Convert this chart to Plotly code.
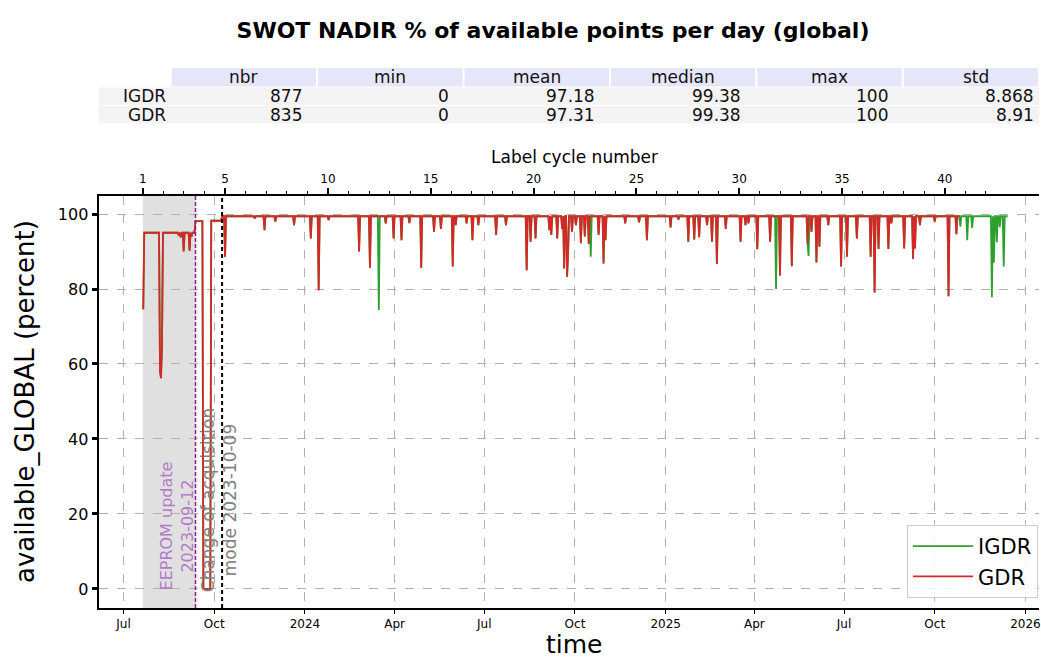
import pandas as pd
import plotly.graph_objects as go

W, H = 1041, 659
FONT = "DejaVu Sans"

title_text = "SWOT NADIR % of available points per day (global)"

# ---------------- statistics table ----------------
stat_columns = ["nbr", "min", "mean", "median", "max", "std"]
stat_rows = ["IGDR", "GDR"]
stat_igdr = ["877", "0", "97.18", "99.38", "100", "8.868"]
stat_gdr = ["835", "0", "97.31", "99.38", "100", "8.91"]

# ---------------- daily series ----------------
# level holding from each date on
level_dates = ["2023-07-21", "2023-07-22", "2023-09-12", "2023-09-20", "2023-09-28", "2023-10-09"]
level_values = [74.6, 95.0, 98.1, 0.0, 98.2, 99.4]
gdr_end = "2025-10-26"
igdr_end = "2025-12-14"

# single-day drops common to both products
gdr_dip_dates = [
    "2023-08-07", "2023-08-08", "2023-08-09", "2023-08-26", "2023-08-28", "2023-08-31",
    "2023-09-06", "2023-09-08",
    "2023-10-12", "2023-11-11", "2023-11-21", "2023-12-02", "2023-12-21",
    "2024-01-07", "2024-01-15", "2024-01-25", "2024-02-25", "2024-03-07", "2024-03-23",
    "2024-03-31", "2024-04-08", "2024-04-16", "2024-04-28", "2024-05-11", "2024-05-18",
    "2024-05-30", "2024-06-02", "2024-06-13", "2024-06-19", "2024-06-25", "2024-07-13",
    "2024-07-23", "2024-08-13", "2024-08-17", "2024-08-22", "2024-09-05", "2024-09-07",
    "2024-09-13", "2024-09-18", "2024-09-20", "2024-09-23", "2024-09-24", "2024-09-28",
    "2024-10-02", "2024-10-07", "2024-10-11", "2024-10-15", "2024-10-25", "2024-10-30",
    "2024-11-01", "2024-11-21", "2024-12-05", "2024-12-13",
    "2025-01-06", "2025-01-14", "2025-01-24", "2025-01-30", "2025-02-04", "2025-02-12",
    "2025-02-17", "2025-02-22", "2025-03-03", "2025-03-18", "2025-03-23", "2025-03-26",
    "2025-04-04", "2025-04-17", "2025-04-27", "2025-05-09", "2025-05-25", "2025-05-29",
    "2025-06-03", "2025-06-06", "2025-06-15", "2025-06-28", "2025-07-04", "2025-07-14",
    "2025-07-28", "2025-08-01", "2025-08-05", "2025-08-15", "2025-08-18", "2025-08-31",
    "2025-09-09", "2025-09-11", "2025-09-16", "2025-10-01", "2025-10-15", "2025-10-23",
]
gdr_dip_values = [
    58.0, 56.2, 64.8, 94.3, 93.8, 90.0,
    90.2, 94.0,
    88.6, 98.8, 95.7, 98.0, 97.0,
    93.5, 79.7, 98.4, 90.0, 85.7, 97.5,
    93.5, 93.0, 97.6, 85.7, 95.3, 96.0,
    86.0, 97.0, 97.5, 93.0, 97.0, 94.4,
    97.0, 85.0, 92.6, 93.5, 95.7, 94.4,
    93.5, 96.0, 85.5, 83.3, 89.5, 95.3,
    97.0, 92.2, 94.0, 92.0, 94.4, 86.8,
    93.0, 97.5, 97.8, 93.0,
    96.4, 98.5, 92.6, 93.2, 93.8, 97.0,
    92.6, 86.7, 96.0, 92.6, 97.0, 97.5,
    90.6, 92.6, 83.6, 86.1, 92.0, 95.3,
    87.1, 91.3, 97.0, 86.0, 88.6, 93.5,
    88.6, 79.1, 90.7, 90.7, 97.5, 90.8,
    88.0, 90.8, 97.0, 98.0, 78.1, 94.6,
]

# drops seen only in IGDR (green)
igdr_dip_dates = [
    "2024-03-16", "2024-10-17", "2025-04-23", "2025-05-26",
    "2025-10-27", "2025-11-03", "2025-11-08", "2025-11-28", "2025-11-30",
    "2025-12-03", "2025-12-06", "2025-12-10",
]
igdr_dip_values = [
    74.4, 88.6, 80.0, 88.8,
    96.6, 93.0, 96.3, 77.8, 87.0,
    92.5, 96.5, 86.0,
]

# ---------------- axes / events ----------------
x_range = ["2023-06-06 10:00", "2026-01-14 19:00"]
y_range = [-5.07, 104.8]
y_ticks = [0, 20, 40, 60, 80, 100]
date_tick_vals = ["2023-07-01", "2023-10-01", "2024-01-01", "2024-04-01", "2024-07-01",
                  "2024-10-01", "2025-01-01", "2025-04-01", "2025-07-01", "2025-10-01",
                  "2026-01-01"]
date_tick_text = ["Jul", "Oct", "2024", "Apr", "Jul", "Oct", "2025", "Apr", "Jul", "Oct", "2026"]

cycle1_start = "2023-07-20 14:00"
cycle_length_days = 20.864
cycle_labels = [1, 5, 10, 15, 20, 25, 30, 35, 40]
cycle_minor = list(range(1, 43))

shade_start, shade_end = "2023-07-20 12:00", "2023-09-12"
eeprom_date = "2023-09-12"
acq_date = "2023-10-09"


def build_series(end, dip_dates, dip_values):
    days = pd.date_range(level_dates[0], end, freq="D")
    lv = pd.Series(level_values, index=pd.to_datetime(level_dates))
    s = lv.reindex(days, method="ffill")
    for d, v in zip(dip_dates, dip_values):
        ts = pd.Timestamp(d)
        if ts in s.index:
            s[ts] = v
    return s


gdr = build_series(gdr_end, gdr_dip_dates, gdr_dip_values)
igdr = build_series(igdr_end, gdr_dip_dates + igdr_dip_dates, gdr_dip_values + igdr_dip_values)

c1 = pd.Timestamp(cycle1_start)
cyc_range = [1 + (pd.Timestamp(x_range[0]) - c1) / pd.Timedelta(days=cycle_length_days),
             1 + (pd.Timestamp(x_range[1]) - c1) / pd.Timedelta(days=cycle_length_days)]

fig = go.Figure()
fig.add_trace(go.Scatter(x=igdr.index, y=igdr.values, name="IGDR", mode="lines",
                         line=dict(color="#2ca02c", width=1.8)))
fig.add_trace(go.Scatter(x=gdr.index, y=gdr.values, name="GDR", mode="lines",
                         line=dict(color="#d62728", width=1.8)))
fig.add_trace(go.Scatter(x=[cycle_minor[0], cycle_minor[-1]], y=[None, None], xaxis="x2", yaxis="y",
                         showlegend=False, hoverinfo="skip", mode="lines"))


def px(x):
    return x / W


def py(y):
    return 1 - y / H


shapes = []
annotations = []

# table
col_left0, col_w, lab_left = 171.0, 146.7, 99.0
hdr_top, hdr_bot = 68.0, 87.0
row_tops = [87.0, 105.5]
row_h = 18.5
tfont = dict(family=FONT, size=17, color="#111111")
for j, name in enumerate(stat_columns):
    x0 = col_left0 + j * col_w
    x1 = min(x0 + col_w, W)
    shapes.append(dict(type="rect", xref="paper", yref="paper", x0=px(x0 + 1), x1=px(x1 - 1),
                       y0=py(hdr_bot - 0.5), y1=py(hdr_top), fillcolor="#e6e6fa", line=dict(width=0)))
    annotations.append(dict(xref="paper", yref="paper", x=px((x0 + x0 + col_w) / 2), y=py((hdr_top + hdr_bot) / 2),
                            text=name, showarrow=False, xanchor="center", yanchor="middle", font=tfont))
for i, (lab, vals) in enumerate(zip(stat_rows, [stat_igdr, stat_gdr])):
    top = row_tops[i]
    bot = top + row_h
    shapes.append(dict(type="rect", xref="paper", yref="paper", x0=px(lab_left), x1=px(W),
                       y0=py(bot - 0.5), y1=py(top + 0.5), fillcolor="#f3f3f3", line=dict(width=0)))
    annotations.append(dict(xref="paper", yref="paper", x=px(col_left0 - 3), y=py((top + bot) / 2),
                            text=lab, showarrow=False, xanchor="right", yanchor="middle", font=tfont))
    for j, v in enumerate(vals):
        xr = col_left0 + (j + 1) * col_w - 13
        annotations.append(dict(xref="paper", yref="paper", x=px(xr), y=py((top + bot) / 2),
                                text=v, showarrow=False, xanchor="right", yanchor="middle", font=tfont))

# shaded period and event lines
shapes.append(dict(type="rect", xref="x", yref="y domain", x0=shade_start, x1=shade_end, y0=0, y1=1,
                   fillcolor="#e0e0e0", line=dict(width=0), layer="below"))
shapes.append(dict(type="line", xref="x", yref="y domain", x0=eeprom_date, x1=eeprom_date, y0=0, y1=1,
                   line=dict(color="#8b1a8f", width=1.5, dash="4px,2px")))
shapes.append(dict(type="line", xref="x", yref="y domain", x0=acq_date, x1=acq_date, y0=0, y1=1,
                   line=dict(color="black", width=2, dash="4px,3px")))

annotations.append(dict(xref="x", yref="y", x=eeprom_date, xshift=-18, y=16.8,
                        text="EEPROM update<br>2023-09-12", textangle=-90, showarrow=False,
                        xanchor="center", yanchor="middle", align="center",
                        font=dict(family=FONT, size=16, color="#b47ac8")))
annotations.append(dict(xref="x", yref="y", x=acq_date, xshift=-3, y=23.7,
                        text="Change of acquisition<br>mode 2023-10-09", textangle=-90, showarrow=False,
                        xanchor="center", yanchor="middle", align="center",
                        font=dict(family=FONT, size=17, color="#808080")))

# axis titles
annotations.append(dict(xref="paper", yref="paper", x=px(575), y=py(644), text="time", showarrow=False,
                        xanchor="center", yanchor="middle", font=dict(family=FONT, size=25, color="black")))
annotations.append(dict(xref="paper", yref="paper", x=px(25), y=py(401), text="available_GLOBAL (percent)",
                        textangle=-90, showarrow=False, xanchor="center", yanchor="middle",
                        font=dict(family=FONT, size=26, color="black")))
annotations.append(dict(xref="paper", yref="paper", x=px(576), y=py(157), text="Label cycle number",
                        showarrow=False, xanchor="center", yanchor="middle",
                        font=dict(family=FONT, size=17, color="black")))

fig.update_layout(
    width=W, height=H,
    margin=dict(l=0, r=0, t=0, b=0),
    paper_bgcolor="white", plot_bgcolor="white",
    font=dict(family=FONT, color="black"),
    title=dict(text="<b>" + title_text + "</b>", x=px(553), y=py(30), xanchor="center", yanchor="middle",
               xref="container", yref="container", font=dict(family=FONT, size=22, color="black")),
    xaxis=dict(type="date", domain=[px(99.5), 1], range=x_range, anchor="y",
               tickmode="array", tickvals=date_tick_vals, ticktext=date_tick_text,
               ticks="outside", ticklen=4, tickwidth=1, tickcolor="black", ticklabeloverflow="allow",
               showline=True, linecolor="black", linewidth=1.5,
               showgrid=True, gridcolor="#b0b0b0", griddash="dash", gridwidth=1, zeroline=False,
               tickfont=dict(family=FONT, size=12, color="black")),
    xaxis2=dict(overlaying="x", anchor="y", side="top", range=cyc_range,
                tickmode="array", tickvals=cycle_labels, ticks="outside", ticklen=6, tickwidth=1.5,
                tickcolor="black",
                minor=dict(tickmode="array", tickvals=cycle_minor, ticks="outside", ticklen=3,
                           tickwidth=1, tickcolor="black", showgrid=False),
                showline=True, linecolor="black", linewidth=1.5, showgrid=False, zeroline=False,
                tickfont=dict(family=FONT, size=12, color="black")),
    yaxis=dict(domain=[py(608), py(196)], range=y_range, tickmode="array", tickvals=y_ticks,
               ticks="outside", ticklen=6, tickwidth=3, tickcolor="black",
               showline=True, linecolor="black", linewidth=1.5,
               showgrid=True, gridcolor="#b0b0b0", griddash="dash", gridwidth=1, zeroline=False,
               tickfont=dict(family=FONT, size=16, color="black")),
    legend=dict(x=px(1040), xanchor="right", y=1 - 598 / H, yanchor="bottom", itemwidth=60,
                bgcolor="rgba(255,255,255,0.85)", bordercolor="#cccccc", borderwidth=1,
                font=dict(family=FONT, size=21, color="black")),
    shapes=shapes,
    annotations=annotations,
    showlegend=True,
)

fig.write_html("out.html", config={"displayModeBar": False},
               post_script="document.body.style.margin='0';document.body.style.overflow='hidden';")
